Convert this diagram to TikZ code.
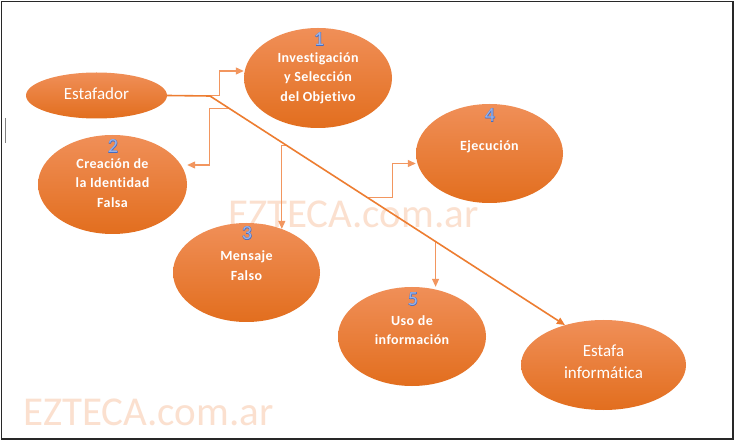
\documentclass[tikz,border=0pt]{standalone}
\usepackage{fontspec}
\setmainfont{Carlito}[Ligatures=NoCommon]
\newfontfamily\spacedfont{Carlito}[LetterSpace=3,Ligatures=NoCommon]
\newfontfamily\numfontfat{Carlito}[FakeBold=4]
\usetikzlibrary{shapes.geometric,arrows.meta,calc}
\definecolor{ormain}{RGB}{237,125,49}
\definecolor{orlight}{RGB}{242,150,95}
\definecolor{ortop}{RGB}{240,143,88}
\definecolor{ormid}{RGB}{243,126,44}
\definecolor{orbot}{RGB}{226,110,30}
\definecolor{numedge}{RGB}{68,108,196}
\definecolor{numfill}{RGB}{150,178,232}
\definecolor{wmark}{RGB}{251,224,207}
\definecolor{framec}{RGB}{40,40,40}
\tikzset{
  ell/.style={ellipse, inner sep=0pt, top color=ortop, middle color=ormid, bottom color=orbot, draw=none},
  txtb/.style={text=white, align=center, inner sep=0pt, font=\fontsize{14}{19.5}\selectfont\spacedfont\bfseries},
  txtn/.style={text=white, align=center, inner sep=0pt, font=\fontsize{17}{22}\selectfont},
  numedgest/.style={text=numedge, inner sep=0pt, font=\fontsize{20}{20}\selectfont\numfontfat},
  numfillst/.style={text=numfill, inner sep=0pt, font=\fontsize{20}{20}\selectfont},
  wm/.style={text=wmark, inner sep=0pt, anchor=base west, font=\fontsize{41}{41}\selectfont},
  diag/.style={draw=ormain, line width=1.6pt, -{Triangle[length=8pt,width=7pt]}},
  elb/.style={draw=orlight, line width=1.1pt, -{Triangle[length=8pt,width=7pt]}}
}
\begin{document}
\begin{tikzpicture}[x=1pt,y=-1pt]
\useasboundingbox (0,0) rectangle (736,443);
\fill[white] (0,0) rectangle (736,443);
% watermarks
\node[wm] (wm1) at (228,228) {EZTECA.com.ar};
\node[wm] (wm2) at (23,425) {EZTECA.com.ar};
% frame and cursor
\draw[framec, line width=1.8pt] (1.5,1.5) rectangle (733,439);
\draw[gray, line width=1.5pt] (5.5,118) -- (5.5,143);
% ellipses
\node[ell, minimum width=141pt, minimum height=46pt] (est) at (96.5,95.5) {};
\node[ell, minimum width=148pt, minimum height=100pt] (n1) at (318,78) {};
\node[ell, minimum width=149pt, minimum height=99pt] (n2) at (112.5,184.5) {};
\node[ell, minimum width=147pt, minimum height=99pt] (n3) at (246.5,272.5) {};
\node[ell, minimum width=147pt, minimum height=99pt] (n4) at (489.5,153.5) {};
\node[ell, minimum width=148pt, minimum height=99pt] (n5) at (412,336.5) {};
\node[ell, minimum width=165pt, minimum height=90pt] (esi) at (603.5,365) {};
% texts
\node[txtn] (test) at (96.5,94) {Estafador};
\node[txtb] (t1) at (318,78) {Investigación\\y Selección\\del Objetivo};
\node[txtb] (t2) at (112.5,183) {Creación de\\la Identidad\\Falsa};
\node[txtb] (t3) at (246.5,265.5) {Mensaje\\Falso};
\node[txtb] (t4) at (489.5,147) {Ejecución};
\node[txtb] (t5) at (412,330) {Uso de\\información};
\node[txtn] (tesi) at (603.5,362) {Estafa\\informática};
% numbers (outlined look)
\node[numedgest] (k1o) at (319,39) {1};
\node[numfillst] (k1) at (319,39) {1};
\node[numedgest] (k2o) at (113,146) {2};
\node[numfillst] (k2) at (113,146) {2};
\node[numedgest] (k3o) at (247,233) {3};
\node[numfillst] (k3) at (247,233) {3};
\node[numedgest] (k4o) at (490,115) {4};
\node[numfillst] (k4) at (490,115) {4};
\node[numedgest] (k5o) at (413,299) {5};
\node[numfillst] (k5) at (413,299) {5};
% connectors
\coordinate (d0) at (210,96);
\path (d0) -- (esi.134)
  coordinate[pos=0.0565] (b2)
  coordinate[pos=0.2175] (b3)
  coordinate[pos=0.4435] (b4)
  coordinate[pos=0.6356] (b5);
\draw[elb] (est.east) -- ++(52,0) |- ([yshift=7pt]n1.west);
\draw[elb] (b2) -- ++(-21,0) |- ([yshift=19.5pt]n2.east);
\draw[elb] (b3) -| (n3.51);
\draw[elb] (b4) -- ++(25,0) |- ([yshift=-10pt]n4.west);
\draw[elb] (b5) -- (b5 |- n5.north);
\draw[diag] (est.east) -- (d0) -- (esi.134);
\end{tikzpicture}
\end{document}
